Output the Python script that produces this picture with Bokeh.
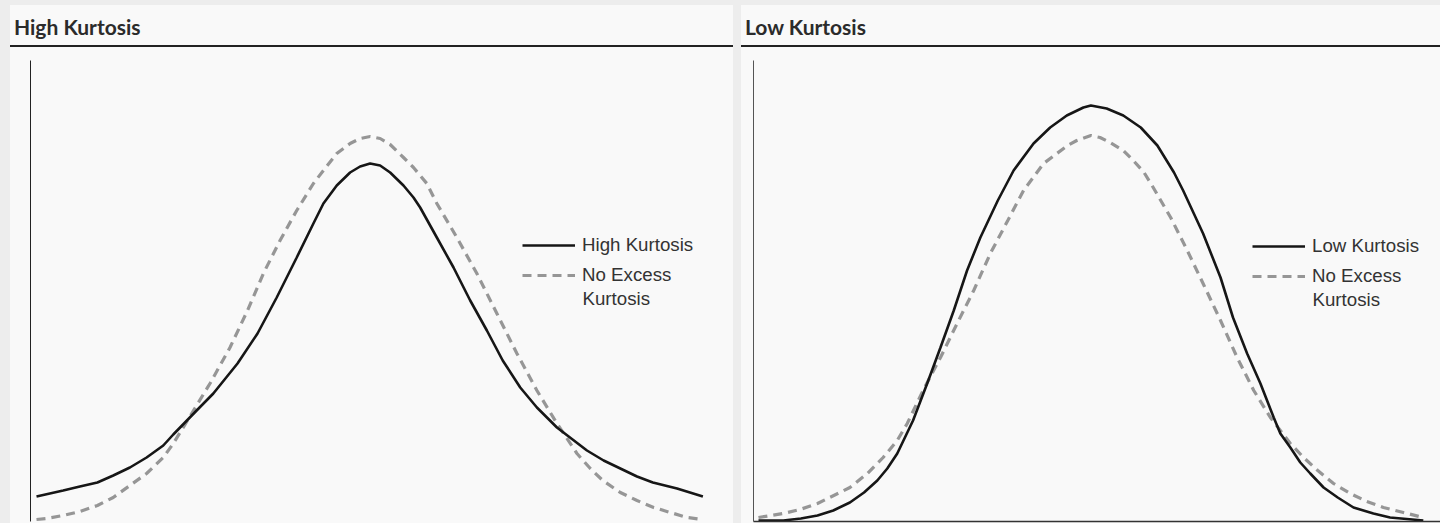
from bokeh.plotting import figure
from bokeh.layouts import row, column
from bokeh.models import Div, Legend, LegendItem, FixedTicker, Range1d, Label, Spacer
from bokeh.embed import file_html
from bokeh.resources import INLINE

# ---- data ----
panel_titles = ["High Kurtosis", "Low Kurtosis"]
solid_labels = ["High Kurtosis", "Low Kurtosis"]
dash_label_lines = ["No Excess", "Kurtosis"]

high_x = [-4.00, -3.68, -3.48, -3.27, -3.08, -2.88, -2.68, -2.48, -2.36, -2.22, -2.08, -1.88,
          -1.59, -1.35, -1.12, -0.88, -0.68, -0.56, -0.40, -0.24, -0.12, 0.00, 0.12, 0.24,
          0.40, 0.52, 0.60, 0.80, 1.00, 1.20, 1.40, 1.59, 1.80, 2.00, 2.24, 2.60, 2.80,
          3.00, 3.20, 3.39, 3.68, 3.99]
high_y = [0.025, 0.031, 0.035, 0.039, 0.046, 0.054, 0.064, 0.076, 0.087, 0.099, 0.111, 0.128,
          0.158, 0.188, 0.224, 0.264, 0.298, 0.318, 0.336, 0.349, 0.355, 0.358, 0.356, 0.349,
          0.336, 0.324, 0.314, 0.284, 0.254, 0.221, 0.191, 0.161, 0.134, 0.114, 0.094, 0.071,
          0.061, 0.053, 0.045, 0.039, 0.033, 0.025]

normal_left_x = [-4.00, -3.88, -3.68, -3.48, -3.27, -3.08, -2.88, -2.68, -2.48, -2.36, -2.19,
                 -1.92, -1.68, -1.47, -1.28, -1.08, -0.88, -0.68, -0.56, -0.40, -0.24, -0.12,
                 0.00, 0.12, 0.24, 0.40, 0.52, 0.68, 0.80, 1.04, 1.28, 1.52, 1.76, 2.00, 2.24,
                 2.48, 2.64, 2.79, 3.00, 3.20, 3.40, 3.60, 3.80, 3.99]
normal_left_y = [0.002, 0.003, 0.006, 0.010, 0.016, 0.024, 0.036, 0.048, 0.064, 0.078, 0.101,
                 0.138, 0.174, 0.211, 0.248, 0.281, 0.311, 0.338, 0.351, 0.368, 0.378, 0.383,
                 0.385, 0.383, 0.377, 0.364, 0.354, 0.338, 0.318, 0.284, 0.248, 0.208, 0.168,
                 0.131, 0.098, 0.068, 0.053, 0.041, 0.029, 0.021, 0.014, 0.009, 0.004, 0.002]

low_x = [-4.00, -3.70, -3.49, -3.29, -3.10, -2.90, -2.73, -2.57, -2.45, -2.33, -2.14, -1.97,
         -1.81, -1.65, -1.49, -1.33, -1.12, -0.93, -0.69, -0.49, -0.29, -0.09, 0.00, 0.19,
         0.39, 0.60, 0.80, 1.00, 1.11, 1.35, 1.56, 1.71, 1.88, 2.04, 2.20, 2.28, 2.40, 2.52,
         2.64, 2.80, 2.97, 3.16, 3.40, 3.60, 4.00]
low_y = [0.001, 0.001, 0.003, 0.006, 0.011, 0.019, 0.029, 0.041, 0.053, 0.068, 0.101, 0.138,
         0.174, 0.211, 0.251, 0.284, 0.321, 0.351, 0.378, 0.394, 0.406, 0.414, 0.416, 0.413,
         0.406, 0.394, 0.376, 0.349, 0.331, 0.288, 0.244, 0.204, 0.168, 0.138, 0.104, 0.088,
         0.074, 0.059, 0.048, 0.034, 0.024, 0.014, 0.008, 0.004, 0.001]

normal_right_x = [-4.00, -3.70, -3.50, -3.29, -2.90, -2.69, -2.50, -2.33, -2.21, -2.02, -1.81,
                  -1.61, -1.41, -1.21, -1.00, -0.81, -0.57, -0.41, -0.28, -0.17, 0.00, 0.11,
                  0.23, 0.39, 0.51, 0.64, 0.75, 0.96, 1.16, 1.35, 1.56, 1.76, 1.96, 2.16, 2.40,
                  2.56, 2.73, 2.92, 3.12, 3.32, 3.52, 3.76, 4.00]
normal_right_y = [0.004, 0.008, 0.012, 0.018, 0.034, 0.048, 0.064, 0.081, 0.098, 0.131, 0.164,
                  0.198, 0.231, 0.268, 0.301, 0.331, 0.358, 0.368, 0.376, 0.381, 0.386, 0.384,
                  0.379, 0.371, 0.361, 0.349, 0.334, 0.304, 0.271, 0.238, 0.201, 0.164, 0.131,
                  0.104, 0.078, 0.064, 0.051, 0.038, 0.028, 0.020, 0.014, 0.009, 0.004]

PANEL_BG = "#f9f9f9"
PAGE_BG = "#ededed"
TEXT_FONT = "Liberation Sans"
HEADER_H = 42
FIG_H = 476


def make_panel(title, width, border_left, xr, sx, sy, slabel, dx, dy, legend_xy,
               show_xaxis, yaxis_color):
    header = Div(
        text=(f'<div style="box-sizing:border-box;width:{width}px;height:{HEADER_H}px;'
              f'padding:9px 0 0 4px;border-bottom:2px solid #222;'
              f'font-family:Lato;font-weight:bold;font-size:21px;line-height:26px;'
              f'color:#2b2b2b;background:{PANEL_BG};white-space:nowrap;">{title}</div>'),
        width=width, height=HEADER_H, margin=0, styles={"background-color": PANEL_BG})

    p = figure(width=width, height=FIG_H, output_backend="svg", toolbar_location=None,
               x_range=Range1d(*xr), y_range=Range1d(0, 0.461),
               min_border_left=border_left, min_border_right=0,
               min_border_top=13, min_border_bottom=2,
               background_fill_color=PANEL_BG, border_fill_color=PANEL_BG,
               outline_line_color=None)
    p.grid.visible = False
    for ax in (p.xaxis, p.yaxis):
        ax.ticker = FixedTicker(ticks=[])
        ax.major_tick_line_color = None
        ax.minor_tick_line_color = None
        ax.major_label_text_font_size = "0px"
    p.yaxis.axis_line_color = yaxis_color
    p.yaxis.axis_line_width = 1
    p.xaxis.axis_line_color = "#333333"
    p.xaxis.axis_line_width = 1.5
    p.xaxis.visible = show_xaxis

    r_dash = p.line(dx, dy, line_color="#969696", line_width=3.2, line_dash="9 6")
    r_solid = p.line(sx, sy, line_color="#161616", line_width=2.6)

    lx, ly = legend_xy
    legend = Legend(items=[LegendItem(label=slabel, renderers=[r_solid]),
                           LegendItem(label=dash_label_lines[0], renderers=[r_dash])],
                    location=(lx, ly), glyph_width=53, glyph_height=22,
                    label_standoff=7, padding=0, margin=0, spacing=8,
                    border_line_color=None, background_fill_alpha=0,
                    label_text_font=TEXT_FONT, label_text_font_size="18.7px",
                    label_text_color="#333333", label_height=22)
    p.add_layout(legend)
    p.add_layout(Label(x=lx + 60, y=ly - 12, x_units="screen", y_units="screen",
                       text=dash_label_lines[1], text_font=TEXT_FONT,
                       text_font_size="18.7px", text_color="#333333",
                       text_baseline="middle", text_align="left"))
    return column(header, p, spacing=0, styles={"background-color": PANEL_BG})


left = make_panel(panel_titles[0], 723, 20, (-4.072, 4.357), high_x, high_y, solid_labels[0],
                  normal_left_x, normal_left_y, (492, 235), False, "#222222")
right = make_panel(panel_titles[1], 699, 12, (-4.06, 4.207), low_x, low_y, solid_labels[1],
                   normal_right_x, normal_right_y, (499, 234), True, "#555555")

panels = row(Spacer(width=10, height=HEADER_H + FIG_H), left,
             Spacer(width=8, height=HEADER_H + FIG_H), right,
             spacing=0, styles={"background-color": PAGE_BG})
layout = column(Spacer(width=1440, height=5), panels, spacing=0,
                styles={"background-color": PAGE_BG})

open("out.html", "w").write(file_html(layout, INLINE))
